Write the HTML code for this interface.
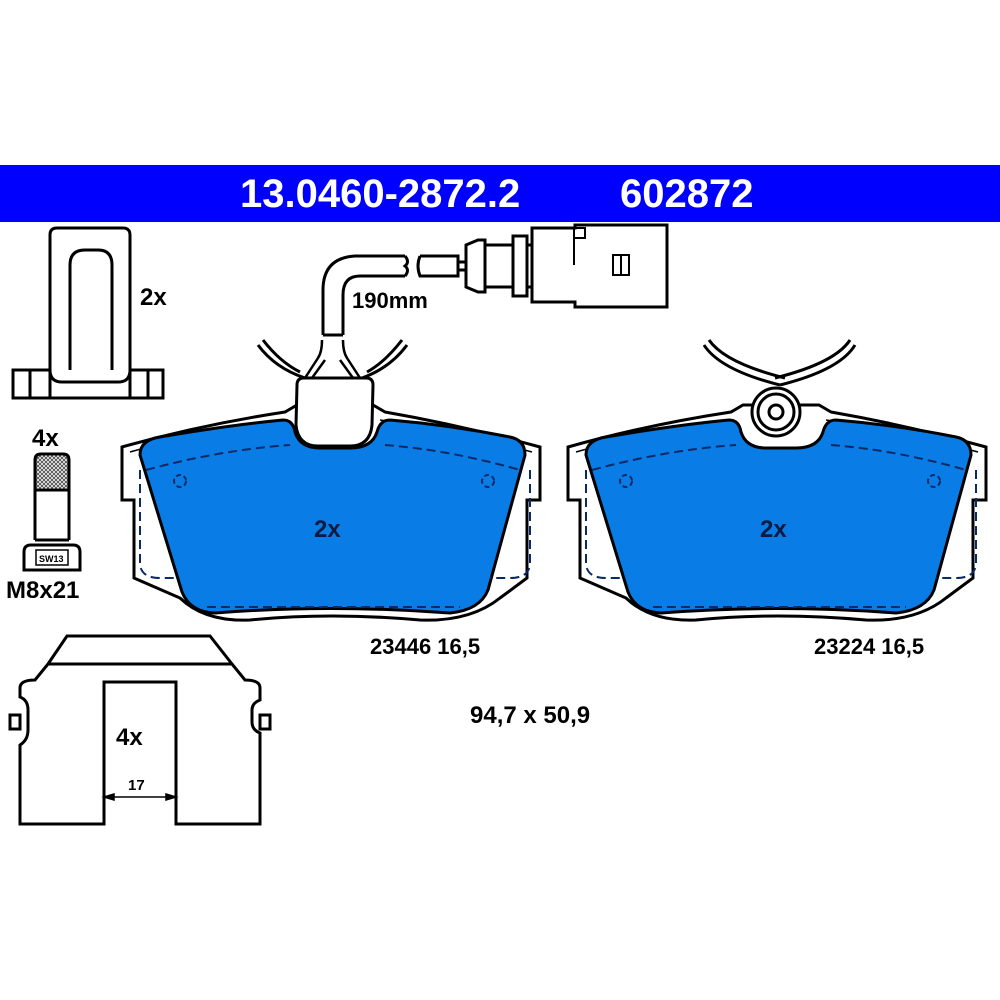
<!DOCTYPE html>
<html><head><style>
html,body{margin:0;padding:0;background:#fff;}
svg{display:block;}
text{font-family:"Liberation Sans",Arial,sans-serif;font-weight:bold;}
</style></head><body>
<svg width="1000" height="1000" viewBox="0 0 1000 1000" xmlns="http://www.w3.org/2000/svg">
<defs>
<pattern id="hatch" width="4" height="4" patternUnits="userSpaceOnUse">
<rect width="4" height="4" fill="#fff"/><path d="M0,0 L4,4 M4,0 L0,4" stroke="#555" stroke-width="1"/>
</pattern>
</defs>
<rect x="0" y="0" width="1000" height="1000" fill="#fff"/>
<rect x="0" y="165" width="1000" height="57" fill="#0000ff"/>
<text x="240" y="207" fill="#fff" font-size="40">13.0460-2872.2</text>
<text x="620" y="207" fill="#fff" font-size="40">602872</text>

<g fill="none" stroke="#000" stroke-width="3">
<!-- clip 2x -->
<path d="M13,398 V370 H50 V235 Q50,228 57,228 H123 Q130,228 130,235 V370 H163 V398 Z"/>
<path d="M70,370 V265 Q70,250 85,250 H98 Q112,250 112,265 V370"/>
<path d="M30,370 V398 M50,370 V398 M130,370 V398 M148,370 V398 M50,370 Q50,382 62,382 H118 Q130,382 130,370"/>
<!-- bolt -->
<path d="M35,460 Q35,454 41,454 H63 Q69,454 69,460 V490 H35 Z" fill="url(#hatch)"/>
<path d="M35,490 V540 M69,490 V540"/>
<path d="M35,540 H69"/>
<path d="M24,552 Q24,545 31,545 H73 Q80,545 80,552 V570 H24 Z" fill="#fff"/>
<rect x="36" y="550" width="32" height="15" stroke-width="1.5"/>
<!-- spring clip 4x -->
<path d="M48,664 L67,636 H210 L232,664"/>
<path d="M20,688 Q20,680 35,680 L48,664 H232 L245,680 Q260,680 260,688 V700 Q252,703 252,710 V722 Q252,730 260,733 V745 H260 L260,824 H176 V682 H104 V824 H20 V745 Q28,740 28,730 V710 Q28,700 20,697 Z"/>
<rect x="10" y="715" width="10" height="14"/><rect x="260" y="715" width="10" height="14"/>
<line x1="48" y1="664" x2="232" y2="664"/>
</g>
<text x="140" y="305" font-size="24">2x</text>
<text x="32" y="446" font-size="24">4x</text>
<text x="39" y="562" font-size="9" font-weight="normal">SW13</text>
<text x="6" y="598" font-size="24">M8x21</text>
<text x="116" y="745" font-size="24">4x</text>
<text x="128" y="790" font-size="15">17</text>
<g stroke="#000" stroke-width="1.5" fill="#000">
<line x1="106" y1="797" x2="174" y2="797"/>
<path d="M104,797 l10,-3 v6z M176,797 l-10,-3 v6z"/>
</g>

<!-- Left pad -->
<g id="pad">
<path d="M122,447 Q200,425 285,412 L297,405 H373 L385,412 Q460,425 540,447 V500 H527 V578 L500,598 Q470,622 420,620 Q330,612 250,620 Q205,622 180,598 L134,578 V500 H122 Z" fill="#fff" stroke="#000" stroke-width="3"/>
<path d="M130,452 Q200,432 288,420 M380,420 Q460,432 532,452" fill="none" stroke="#000" stroke-width="1.5"/>
<path d="M140,455 Q140,440 160,437 Q230,425 283,420 Q293,420 295,432 Q300,448 320,448 H350 Q372,448 377,432 Q380,420 390,420 Q450,425 510,437 Q525,440 525,455 L488,590 Q480,610 450,613 Q330,604 215,613 Q190,612 182,592 Z" fill="#0a7ce6" stroke="#000" stroke-width="3"/>
<path d="M146,470 Q220,450 290,445 M385,445 Q450,450 520,470 M207,607 H460 M140,470 V565 Q142,578 160,578 H178 M530,470 V565 Q528,578 510,578 H490" fill="none" stroke="#0a2a66" stroke-width="2" stroke-dasharray="9,5"/>
<circle cx="180" cy="481" r="6" fill="none" stroke="#0a2a66" stroke-width="2" stroke-dasharray="5,3"/>
<circle cx="488" cy="481" r="6" fill="none" stroke="#0a2a66" stroke-width="2" stroke-dasharray="5,3"/>
</g>
<text x="314" y="537" font-size="24" fill="#0a1a40">2x</text>
<!-- left tab + wire -->
<g fill="#fff" stroke="#000" stroke-width="3">
<path d="M297,385 Q297,378 304,378 H366 Q373,378 373,385 L372,425 Q370,446 350,446 H318 Q298,446 296,425 Z"/>
<path d="M258,345 Q275,368 305,378 M263,340 Q280,362 300,372" fill="none"/>
<path d="M407,345 Q390,368 362,378 M402,340 Q385,362 367,372" fill="none"/>
<path d="M305,378 L318,358 Q322,352 322,340 M312,378 L325,360 M360,378 L347,358 Q343,352 343,340 M353,378 L340,360" fill="none" stroke-width="2.5"/>
<path d="M323,335 V290 Q323,258 355,256 H405 M343,335 V295 Q343,276 360,276 H405" fill="none"/>
<path d="M323,335 H343" fill="none"/>
<path d="M405,256 Q410,262 405,266 Q410,270 405,276 M420,256 H458 V276 H420 Q416,266 420,256" fill="none"/>
<path d="M458,262 H466 M458,270 H466" fill="none"/>
<path d="M466,245 L478,240 H485 V292 H478 L466,287 Z"/>
<rect x="485" y="245" width="28" height="42"/>
<rect x="513" y="236" width="14" height="60"/>
<path d="M527,245 H532 M527,287 H532" fill="none"/>
<path d="M532,228 H575 V225 H667 V307 H575 V302 H532 Z"/>
<path d="M574,228 V265 M574,228 H585 V238 H574" fill="none" stroke-width="2"/>
<rect x="613" y="255" width="16" height="20" stroke-width="2"/>
<line x1="621" y1="255" x2="621" y2="275" stroke-width="2"/>
</g>
<text x="352" y="308" font-size="22">190mm</text>

<!-- Right pad -->
<use href="#pad" transform="translate(446,0)"/>
<g fill="#fff" stroke="#000" stroke-width="3">
<path d="M704,345 Q720,370 780,385 M709,340 Q725,363 785,378" fill="none"/>
<path d="M855,345 Q840,370 780,385 M850,340 Q835,363 775,378" fill="none"/>
<circle cx="776" cy="412" r="24"/>
<circle cx="776" cy="412" r="18"/>
<circle cx="776" cy="412" r="7"/>
</g>
<text x="760" y="537" font-size="24" fill="#0a1a40">2x</text>

<text x="370" y="654" font-size="22">23446 16,5</text>
<text x="814" y="654" font-size="22">23224 16,5</text>
<text x="470" y="723" font-size="24">94,7 x 50,9</text>
</svg>
</body></html>
